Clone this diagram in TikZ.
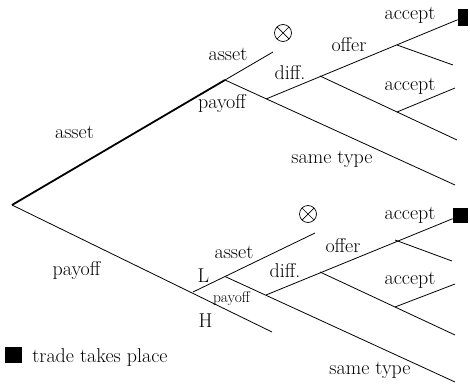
\documentclass[tikz,border=0pt]{standalone}
\begin{document}
\begin{tikzpicture}[x=1pt,y=-1pt,line width=0.8pt,
  lbl/.style={anchor=base,inner sep=0pt,font=\fontsize{20}{24}\selectfont},
  slbl/.style={anchor=base,inner sep=0pt,font=\fontsize{15.5}{18}\selectfont},
  trunk/.style={line width=1.8pt},
  sqbox/.style={fill=black,draw=none,inner sep=0pt},
  nogo/.style={circle,draw,line width=0.7pt,minimum size=17pt,inner sep=0pt,
    path picture={\draw[line width=0.7pt] (path picture bounding box.north west) -- (path picture bounding box.south east)
      (path picture bounding box.north east) -- (path picture bounding box.south west);}}]
\useasboundingbox (0,0) rectangle (470,385);
% ---------- coordinates: top subtree
\coordinate (R) at (12,205);
\coordinate (A) at (225,80);
\coordinate (A1) at (273,52);
\coordinate (Aend) at (455,185);
\coordinate (D) at (266,99);
\coordinate (O) at (320,76);
\coordinate (Oend) at (457,140);
\coordinate (P) at (397,45);
\coordinate (Pend) at (453,65);
\coordinate (Q) at (397,112);
\coordinate (Qend) at (455,88);
\node[sqbox,minimum width=10pt,minimum height=17pt] (T) at (463,17.5) {};
\node[nogo] (X1) at (283,33) {};
% ---------- coordinates: bottom subtree
\coordinate (L) at (193,292);
\coordinate (Hend) at (272,332);
\coordinate (Lend) at (315,233);
\coordinate (B) at (225,276.5);
\coordinate (Bend) at (455,382);
\coordinate (D2) at (266,295);
\coordinate (O2) at (320,272);
\coordinate (O2end) at (455,335);
\coordinate (P2) at (395,240);
\coordinate (P2end) at (452,261);
\coordinate (Q2) at (395,307);
\coordinate (Q2end) at (455,284);
\node[sqbox,minimum width=15pt,minimum height=15pt] (T2) at (460.5,215.5) {};
\node[nogo] (X2) at (308,214) {};
% ---------- edges
\draw[trunk] (R) -- (A);
\draw (A) -- (A1);
\draw (A) -- (Aend);
\draw (D) -- (T);
\draw (O) -- (Oend);
\draw (P) -- (Pend);
\draw (Q) -- (Qend);
\draw (R) -- (Hend);
\draw (L) -- (Lend);
\draw (B) -- (Bend);
\draw (D2) -- (T2);
\draw (O2) -- (O2end);
\draw (P2) -- (P2end);
\draw (Q2) -- (Q2end);
% ---------- labels top
\node[lbl] (t1) at (74.5,138) {asset};
\node[lbl] (t2) at (228,61) {asset};
\node[lbl] (t3) at (222,108) {payoff};
\node[lbl] (t4) at (290,80) {diff.};
\node[lbl] (t5) at (349,52) {offer};
\node[lbl] (t6) at (410,20) {accept};
\node[lbl] (t7) at (410,91) {accept};
\node[lbl] (t8) at (332,163) {same type};
% ---------- labels bottom
\node[lbl] (b1) at (76.5,275) {payoff};
\node[lbl] (b2) at (234,258) {asset};
\node[lbl] (b3) at (203.5,282) {L};
\node[slbl] (b4) at (231.5,302) {payoff};
\node[lbl] (b5) at (205.5,327) {H};
\node[lbl] (b6) at (285,277) {diff.};
\node[lbl] (b7) at (343,252) {offer};
\node[lbl] (b8) at (410,219) {accept};
\node[lbl] (b9) at (410,284) {accept};
\node[lbl] (b10) at (370,374) {same type};
% ---------- legend
\node[sqbox,minimum width=17pt,minimum height=16pt] (lg) at (13,355) {};
\node[lbl,anchor=base west] (lgt) at (32,362) {trade takes place};
\end{tikzpicture}
\end{document}
